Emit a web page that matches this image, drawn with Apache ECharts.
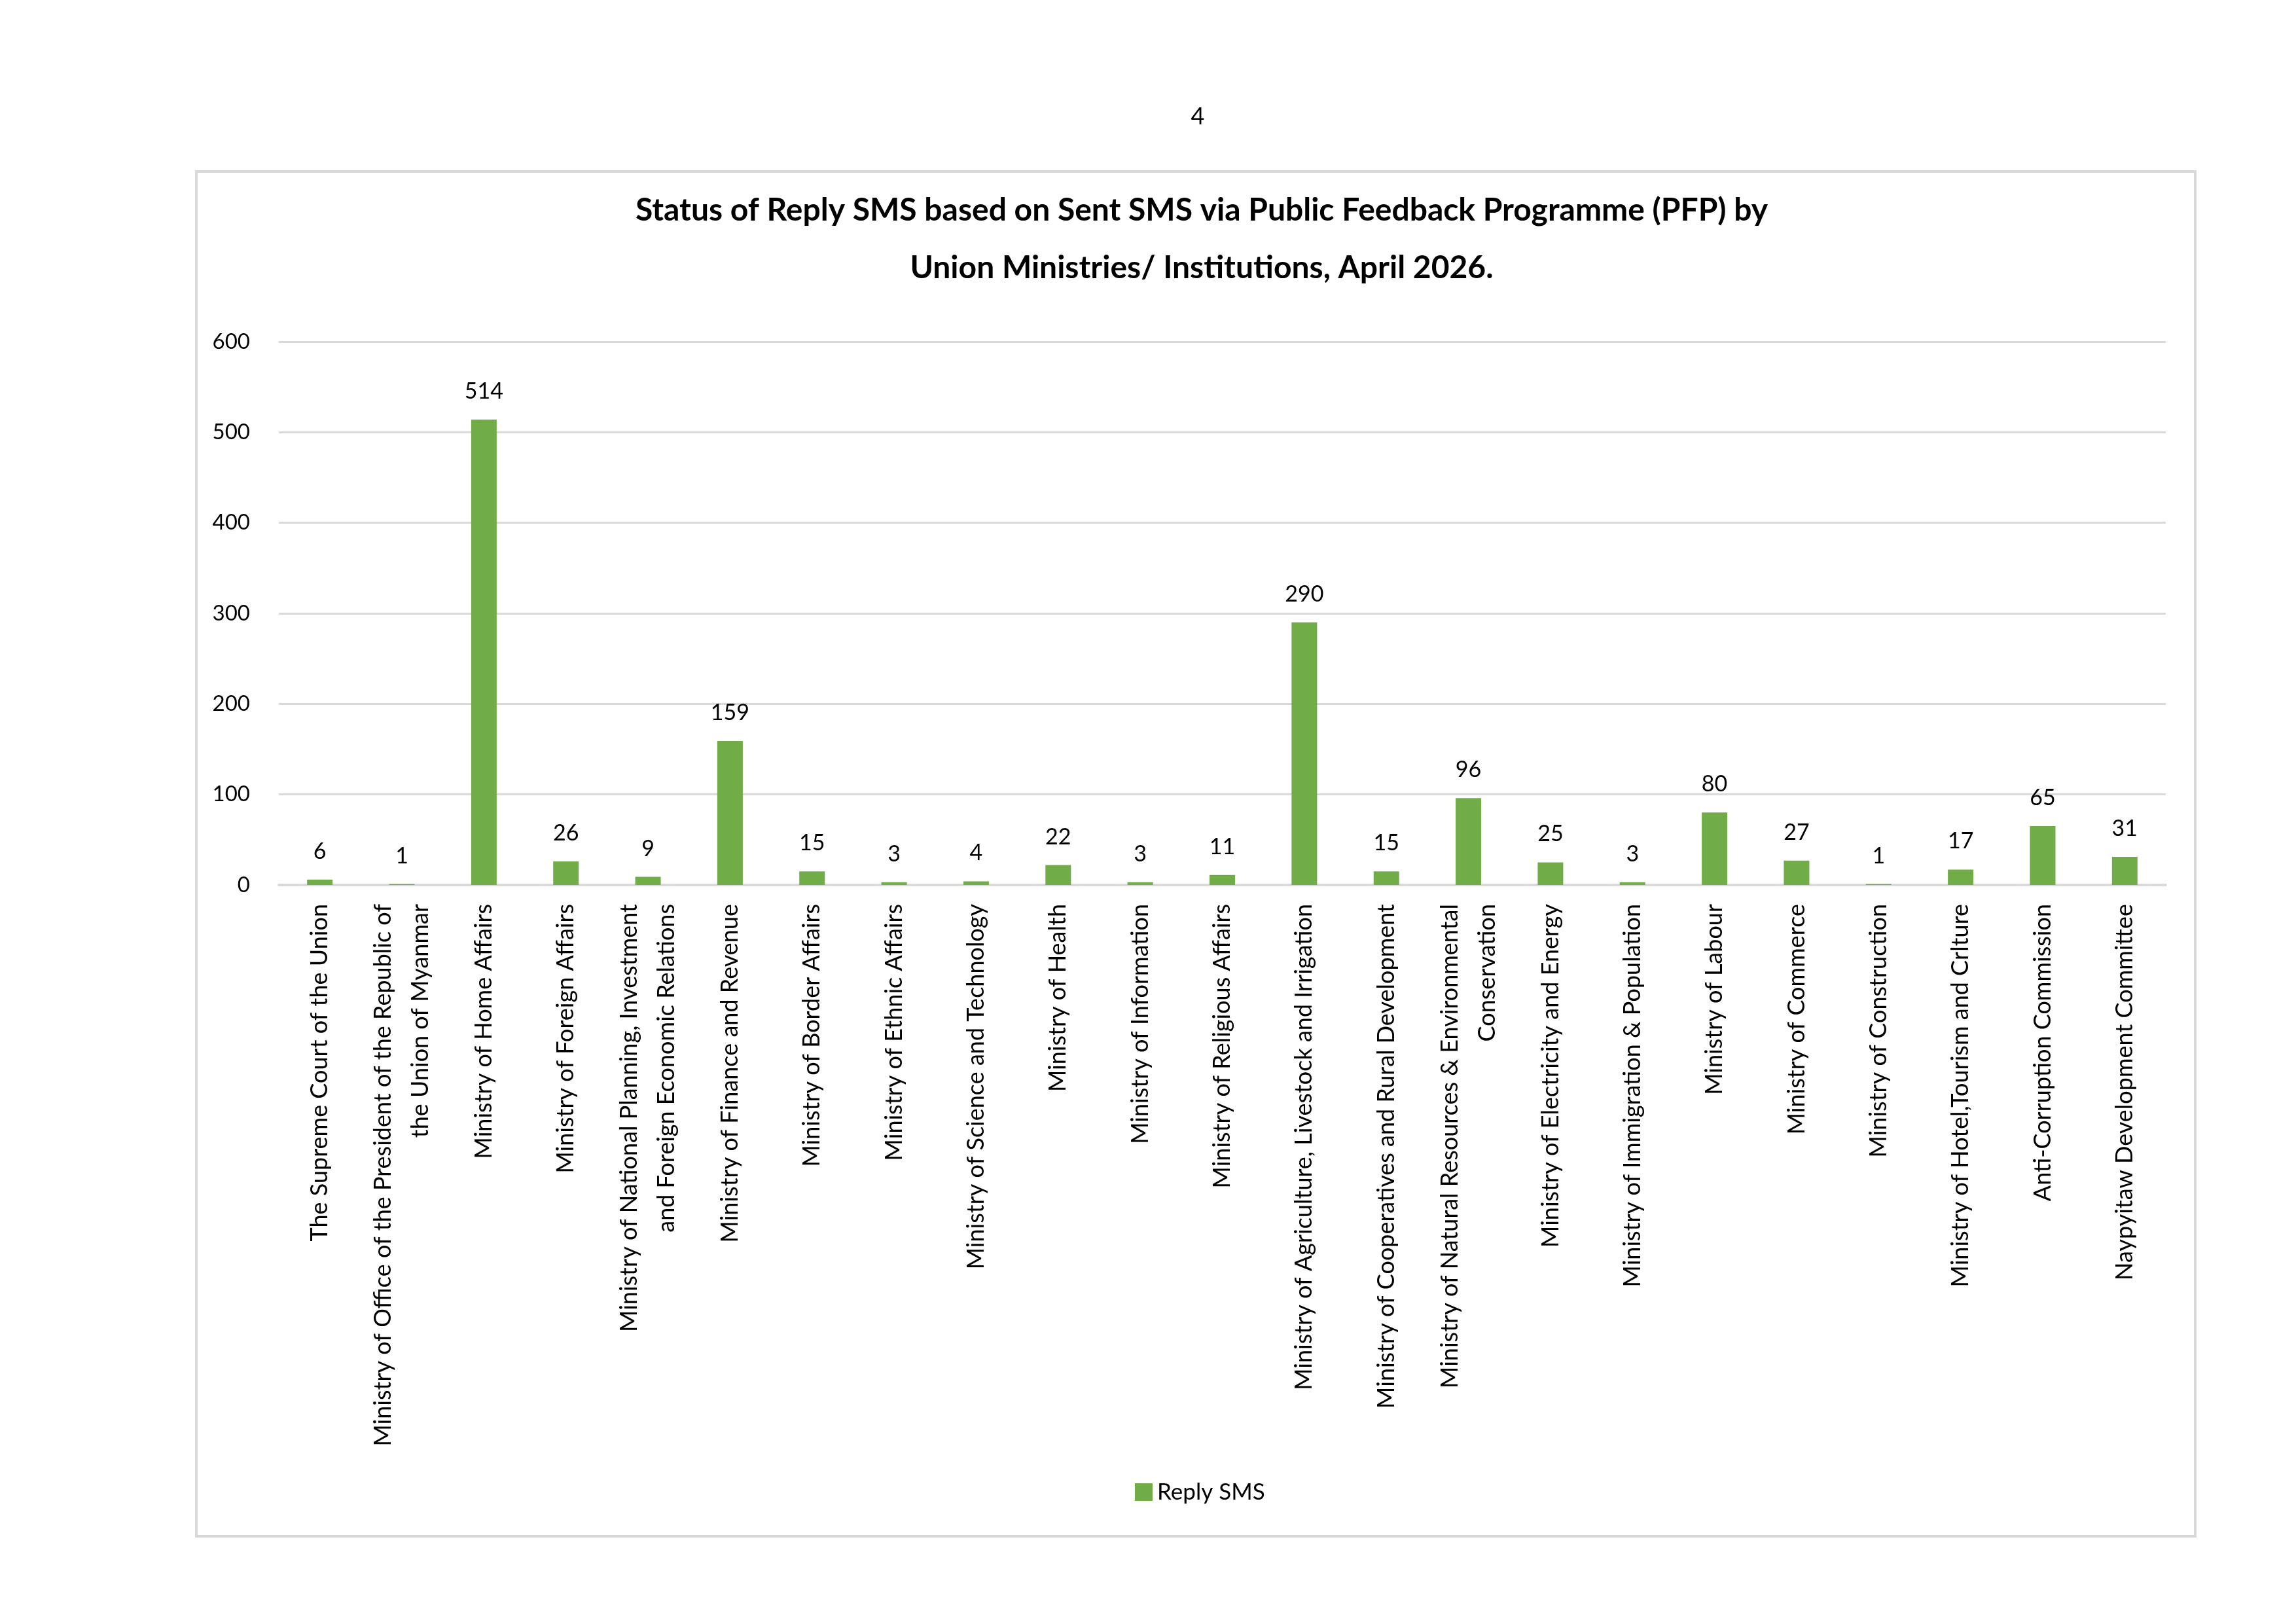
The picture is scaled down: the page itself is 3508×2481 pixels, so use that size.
<!DOCTYPE html>
<html>
<head>
<meta charset="utf-8">
<script src="https://cdn.jsdelivr.net/npm/echarts@6/dist/echarts.min.js"></script>
<style>
html,body{margin:0;padding:0;background:#fff;}
#c{width:3508px;height:2481px;}
</style>
</head>
<body>
<div id="c"></div>
<script>
var categories = [
  "The Supreme Court of the Union",
  "Ministry of Office of the President of the Republic of\nthe Union of Myanmar",
  "Ministry of Home Affairs",
  "Ministry of Foreign Affairs",
  "Ministry of National Planning, Investment\nand Foreign Economic Relations",
  "Ministry of Finance and Revenue",
  "Ministry of Border Affairs",
  "Ministry of Ethnic Affairs",
  "Ministry of Science and Technology",
  "Ministry of Health",
  "Ministry of Information",
  "Ministry of Religious Affairs",
  "Ministry of Agriculture, Livestock and Irrigation",
  "Ministry of Cooperatives and Rural Development",
  "Ministry of Natural Resources & Environmental\nConservation",
  "Ministry of Electricity and Energy",
  "Ministry of Immigration & Population",
  "Ministry of Labour",
  "Ministry of Commerce",
  "Ministry of Construction",
  "Ministry of Hotel,Tourism and Crlture",
  "Anti-Corruption Commission",
  "Naypyitaw Development Committee"
];
var replySMS = [6, 1, 514, 26, 9, 159, 15, 3, 4, 22, 3, 11, 290, 15, 96, 25, 3, 80, 27, 1, 17, 65, 31];
var yTicks = { min: 0, max: 600, interval: 100 };
var seriesName = "Reply SMS";
var titleText = "Status of Reply SMS based on Sent SMS via Public Feedback Programme (PFP) by\nUnion Ministries/ Institutions, April 2026.";
var pageNumber = "4";

var FONT = "Lato";
var chart = echarts.init(document.getElementById('c'));
chart.setOption({
  backgroundColor: '#ffffff',
  animation: false,
  textStyle: { fontFamily: FONT, color: '#000' },
  graphic: [
    {
      type: 'rect', silent: true, z: -10,
      shape: { x: 300, y: 262, width: 3054, height: 2085 },
      style: { fill: '#ffffff', stroke: '#D9D9D9', lineWidth: 4 }
    }
  ],
  title: [
    {
      text: pageNumber, left: 1830, top: 160, textAlign: 'center', padding: 0,
      textStyle: { fontFamily: FONT, fontSize: 36, fontWeight: 'normal', color: '#000' }
    },
    {
      text: titleText, left: 1836, top: 278, textAlign: 'center', padding: 0,
      textStyle: { fontFamily: FONT, fontSize: 48, fontWeight: 'bold', color: '#000', lineHeight: 88 }
    }
  ],
  legend: {
    data: [seriesName], left: 1734, top: 2262, padding: 0,
    icon: 'rect', itemWidth: 27, itemHeight: 27, itemGap: 10,
    textStyle: { fontFamily: FONT, fontSize: 35, color: '#000', padding: [0, 0, 0, 2] }
  },
  grid: { left: 426, right: 199, top: 522, bottom: 1129, containLabel: false },
  xAxis: {
    type: 'category',
    data: categories,
    axisLine: { show: true, lineStyle: { color: '#D9D9D9', width: 4 } },
    axisTick: { show: false },
    axisLabel: {
      interval: 0, rotate: 90, margin: 29,
      fontFamily: FONT, fontSize: 36, color: '#000', lineHeight: 57
    },
    splitLine: { show: false }
  },
  yAxis: {
    type: 'value',
    min: yTicks.min, max: yTicks.max, interval: yTicks.interval,
    axisLine: { show: false },
    axisTick: { show: false },
    axisLabel: { fontFamily: FONT, fontSize: 33, color: '#000', margin: 44, padding: [0, 0, 6, 0] },
    splitLine: { show: true, lineStyle: { color: '#D9D9D9', width: 3 } }
  },
  series: [{
    name: seriesName,
    type: 'bar',
    data: replySMS,
    barWidth: 39,
    itemStyle: { color: '#70AD47' },
    label: {
      show: true, position: 'top', distance: 26,
      fontFamily: FONT, fontSize: 34, color: '#000'
    }
  }]
});
</script>
</body>
</html>
